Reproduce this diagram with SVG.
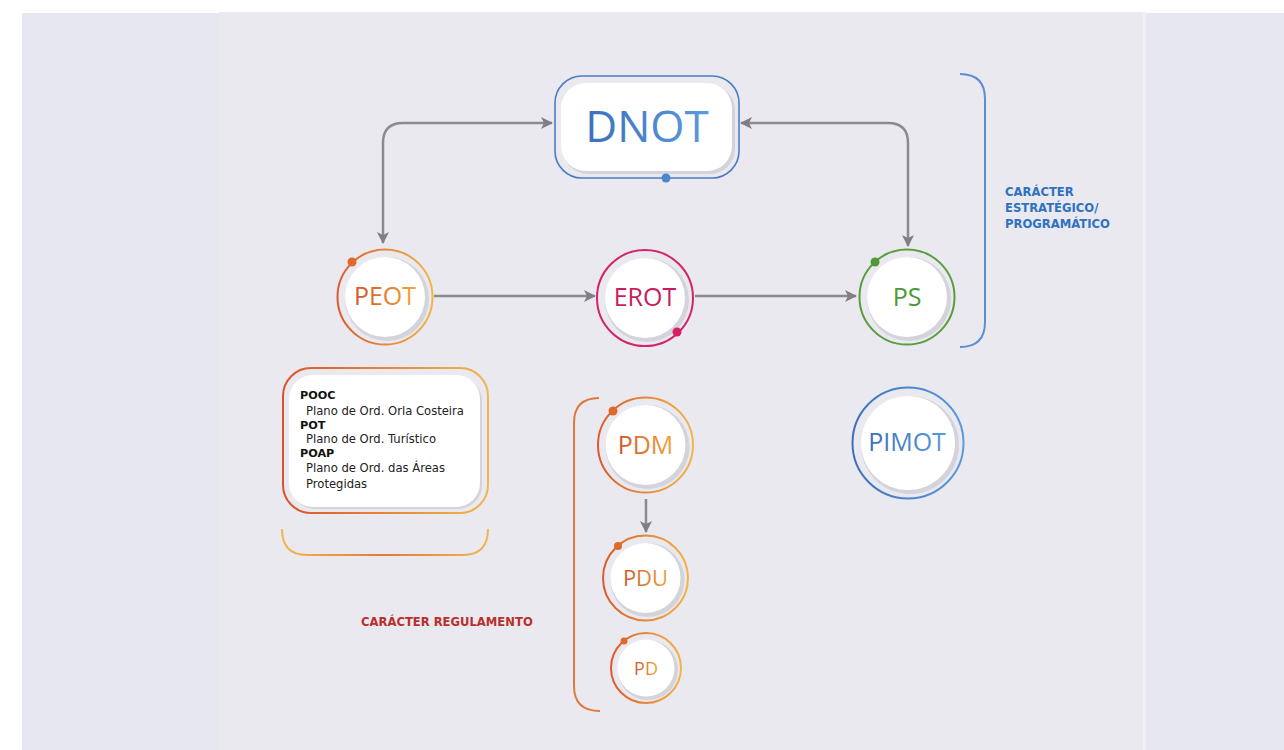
<svg xmlns="http://www.w3.org/2000/svg" width="1284" height="750" viewBox="0 0 1284 750">
<defs>
<linearGradient id="gOr" x1="0" y1="0" x2="1" y2="0"><stop offset="0" stop-color="#dc5a2c"/><stop offset="1" stop-color="#f2b548"/></linearGradient>
<linearGradient id="gOrT" x1="0" y1="0" x2="1" y2="0"><stop offset="0" stop-color="#d2552a"/><stop offset="1" stop-color="#eea83a"/></linearGradient>
<linearGradient id="gBl" x1="0" y1="0" x2="1" y2="0"><stop offset="0" stop-color="#3d6fbd"/><stop offset="1" stop-color="#5b9bdc"/></linearGradient>
<linearGradient id="gBox" x1="0" y1="0" x2="1" y2="0"><stop offset="0" stop-color="#d9542c"/><stop offset="1" stop-color="#f0b84c"/></linearGradient>
<linearGradient id="gBr" x1="0" y1="0" x2="1" y2="0"><stop offset="0" stop-color="#f0b84c"/><stop offset="0.5" stop-color="#e07a38"/><stop offset="1" stop-color="#f0b84c"/></linearGradient>
<marker id="ah" viewBox="0 0 12 12" refX="11" refY="6" markerWidth="12" markerHeight="12" markerUnits="userSpaceOnUse" orient="auto-start-reverse">
<path d="M0,0 L12,6 L0,12 L3,6 Z" fill="#7f7f85"/>
</marker>
</defs>
<style>
.conn{fill:none;stroke:#8a8a90;stroke-width:2.5}
.shade{fill:#d3d3dc}
.inner{fill:#ffffff}
.lbl{font-family:"Open Sans","Noto Sans",sans-serif;text-anchor:middle}
.note{font-family:"DejaVu Sans","Noto Sans",sans-serif;font-size:11.6px;fill:#222}
.noteb{font-family:"DejaVu Sans","Noto Sans",sans-serif;font-size:11.2px;font-weight:700;fill:#111}
.cap{font-family:"DejaVu Sans","Noto Sans",sans-serif;font-weight:700;font-size:11.6px}
</style>
<rect x="0" y="0" width="1284" height="750" fill="#ffffff"/>
<rect x="22" y="13" width="1262" height="737" fill="#e7e7f1"/>
<rect x="219" y="12" width="926" height="738" fill="#e9e9ef"/>
<rect x="1143" y="12" width="3" height="738" fill="#efeff4"/>

<g id="connectors">
<path class="conn" d="M383,243 L383,143 Q383,123 403,123 L552,123" marker-start="url(#ah)" marker-end="url(#ah)"/>
<path class="conn" d="M741,123 L888,123 Q908,123 908,143 L908,246" marker-start="url(#ah)" marker-end="url(#ah)"/>
<path class="conn" d="M434,296 L595,296" marker-end="url(#ah)"/>
<path class="conn" d="M695,296 L856,296" marker-end="url(#ah)"/>
<path class="conn" d="M646,499 L646,532" marker-end="url(#ah)"/>
</g>

<g id="DNOT">
<rect x="555" y="76" width="184" height="102" rx="27" fill="none" stroke="#4a7cc4" stroke-width="1.6"/>
<rect x="563" y="85" width="172" height="89" rx="25" class="shade"/>
<rect x="561" y="83" width="171" height="88" rx="25" class="inner"/>
<text x="647" y="142" class="lbl" font-size="44" fill="url(#gBl)">DNOT</text>
<circle cx="666" cy="178" r="4.5" fill="#4a86d0"/>
</g>

<g id="PEOT">
<circle cx="385" cy="297" r="47.5" fill="none" stroke="url(#gOr)" stroke-width="2"/>
<circle cx="387" cy="299" r="42" class="shade"/>
<circle cx="385" cy="297" r="40" class="inner"/>
<text x="385" y="305" class="lbl" font-size="25" fill="url(#gOrT)">PEOT</text>
<circle cx="352" cy="262" r="4.5" fill="#e0682a"/>
</g>

<g id="EROT">
<circle cx="645" cy="298" r="48" fill="none" stroke="#d3246a" stroke-width="2"/>
<circle cx="647" cy="300" r="42" class="shade"/>
<circle cx="645" cy="298" r="40" class="inner"/>
<text x="645" y="306" class="lbl" font-size="25" fill="#c81e5e">EROT</text>
<circle cx="677" cy="332" r="4.5" fill="#d81e64"/>
</g>

<g id="PS">
<circle cx="907" cy="297" r="47.5" fill="none" stroke="#5a9e3c" stroke-width="2"/>
<circle cx="909" cy="299" r="42" class="shade"/>
<circle cx="907" cy="297" r="40" class="inner"/>
<text x="907" y="306" class="lbl" font-size="25" fill="#4f9a38">PS</text>
<circle cx="875" cy="262" r="4.5" fill="#4f9a38"/>
</g>

<g id="estrategico">
<path d="M960,74 Q985,74 985,99 L985,322 Q985,347 960,347" fill="none" stroke="#5b8ed2" stroke-width="2"/>
<text class="cap" fill="#2f72c0"><tspan x="1005" y="196">CARÁCTER</tspan><tspan x="1005" y="212">ESTRATÉGICO/</tspan><tspan x="1005" y="228">PROGRAMÁTICO</tspan></text>
</g>

<g id="POOC">
<rect x="283" y="368" width="205" height="145" rx="28" fill="none" stroke="url(#gBox)" stroke-width="2"/>
<rect x="291" y="377" width="191" height="132" rx="24" class="shade"/>
<rect x="289" y="375" width="191" height="132" rx="24" class="inner"/>
<text class="noteb" x="300" y="399">POOC</text>
<text class="note" x="306" y="415">Plano de Ord. Orla Costeira</text>
<text class="noteb" x="300" y="429">POT</text>
<text class="note" x="306" y="443">Plano de Ord. Turístico</text>
<text class="noteb" x="300" y="457">POAP</text>
<text class="note" x="306" y="472">Plano de Ord. das Áreas</text>
<text class="note" x="306" y="488">Protegidas</text>
<path d="M282,529 Q282,555 307,555 L463,555 Q488,555 488,529" fill="none" stroke="url(#gBr)" stroke-width="2"/>
</g>

<g id="regulamento">
<path d="M599,398 Q574,398 574,423 L574,686 Q574,711 600,711" fill="none" stroke="#e07a3c" stroke-width="2"/>
<text class="cap" x="361" y="626" fill="#b8302e">CARÁCTER REGULAMENTO</text>
</g>

<g id="PDM">
<circle cx="645.5" cy="445" r="47.5" fill="none" stroke="url(#gOr)" stroke-width="2"/>
<circle cx="647.5" cy="447" r="42" class="shade"/>
<circle cx="645.5" cy="445" r="40" class="inner"/>
<text x="645.5" y="454" class="lbl" font-size="25" fill="url(#gOrT)">PDM</text>
<circle cx="613" cy="411" r="4.5" fill="#e0682a"/>
</g>

<g id="PDU">
<circle cx="645.5" cy="578" r="42.5" fill="none" stroke="url(#gOr)" stroke-width="2"/>
<circle cx="647.5" cy="580" r="37" class="shade"/>
<circle cx="645.5" cy="578" r="35" class="inner"/>
<text x="645.5" y="586" class="lbl" font-size="22" fill="url(#gOrT)">PDU</text>
<circle cx="618" cy="546" r="4" fill="#e0682a"/>
</g>

<g id="PD">
<circle cx="646" cy="668" r="35" fill="none" stroke="url(#gOr)" stroke-width="2"/>
<circle cx="648" cy="670" r="30" class="shade"/>
<circle cx="646" cy="668" r="28.5" class="inner"/>
<text x="646" y="675" class="lbl" font-size="18" fill="url(#gOrT)">PD</text>
<circle cx="624" cy="641" r="3.5" fill="#e0682a"/>
</g>

<g id="PIMOT">
<circle cx="908" cy="443" r="55.5" fill="none" stroke="url(#gBl)" stroke-width="2"/>
<circle cx="910" cy="445" r="49" class="shade"/>
<circle cx="908" cy="443" r="47" class="inner"/>
<text x="907" y="451" class="lbl" font-size="25" fill="url(#gBl)">PIMOT</text>
</g>
</svg>
